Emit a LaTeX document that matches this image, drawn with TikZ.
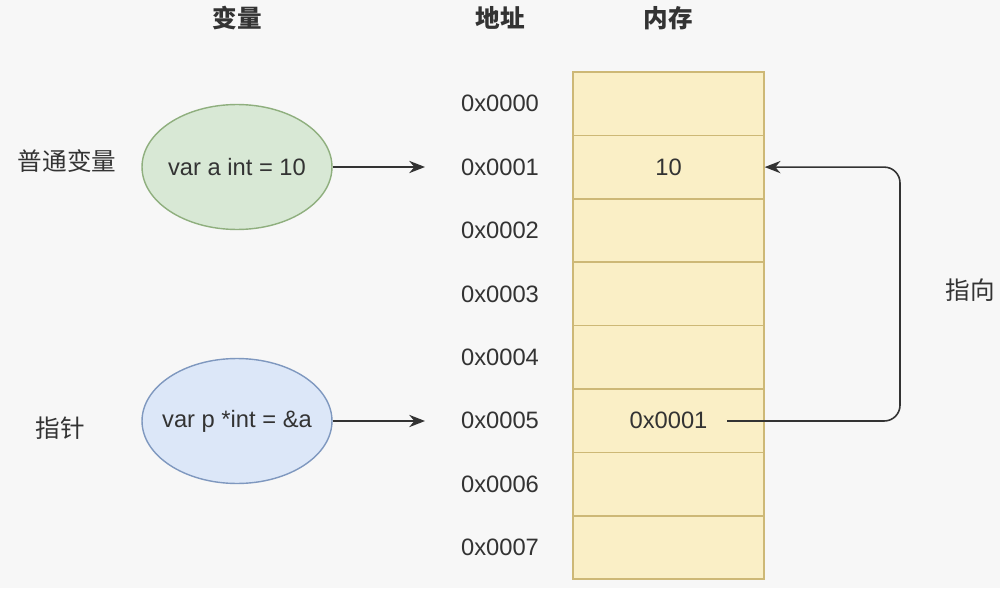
\documentclass[tikz,border=0pt]{standalone}
\usepackage{fontspec}
\setmainfont{Liberation Sans}
\newfontfamily\cjk{Noto Sans CJK SC}
\usetikzlibrary{shapes.geometric,arrows.meta}
\definecolor{bgc}{HTML}{F7F7F7}
\definecolor{memfill}{HTML}{FAEFC6}
\definecolor{memline}{HTML}{CDB876}
\definecolor{gfill}{HTML}{D8E8D5}
\definecolor{gline}{HTML}{8FAF7E}
\definecolor{bfill}{HTML}{DCE7F8}
\definecolor{bline}{HTML}{7F98BF}
\definecolor{ink}{HTML}{333333}
\begin{document}
\begin{tikzpicture}[x=0.02cm,y=-0.02cm,
  header/.style={font=\cjk\bfseries\fontsize{14}{16}\selectfont, text=ink},
  side/.style={font=\cjk\fontsize{14}{16}\selectfont, text=ink},
  txt/.style={font=\fontsize{13.5}{16}\selectfont, text=ink},
  cell/.style={draw=memline, fill=memfill, line width=0.8pt, minimum width=3.82cm, minimum height=1.268cm, inner sep=0pt},
  var/.style={ellipse, line width=0.8pt, inner sep=0pt, minimum width=3.8cm, minimum height=2.5cm, font=\fontsize{13.5}{16}\selectfont, text=ink},
  arr/.style={draw=ink, line width=0.9pt, -{Stealth[length=9pt,width=7pt]}}]
\fill[bgc] (0,0) rectangle (1000,588);
\useasboundingbox (0,0) rectangle (1000,588);
% headers
\node[header] (h1) at (237,18) {变量};
\node[header] (h2) at (500,18) {地址};
\node[header] (h3) at (668,18) {内存};
% memory cells and addresses
\foreach \i in {0,...,7} {
  \node[cell] (m\i) at (668.5,{103.7+63.4*\i}) {};
  \node[txt] (a\i) at (500,{103.7+63.4*\i}) {0x000\i};
}
\node[txt] (v1) at (m1) {10};
\node[txt] (v5) at (m5) {0x0001};
% variables
\node[side] (l1) at (67,161) {普通变量};
\node[side] (l2) at (60,428) {指针};
\node[var, draw=gline, fill=gfill] (va) at (237,167) {\makebox[0pt]{var a int = 10}};
\node[var, draw=bline, fill=bfill] (vp) at (237,421) {\makebox[0pt]{var p *int = \&a}};
\coordinate (t1) at (425,167);
\coordinate (t2) at (425,421);
\draw[arr] (va.east) -- (t1);
\draw[arr] (vp.east) -- (t2);
% pointer
\coordinate (s) at (727,421);
\coordinate (bend) at (900,300);
\draw[arr, rounded corners=9pt] (s) -| (bend) |- (m1.east);
\node[side] (lp) at (970,290) {指向};
\end{tikzpicture}
\end{document}
